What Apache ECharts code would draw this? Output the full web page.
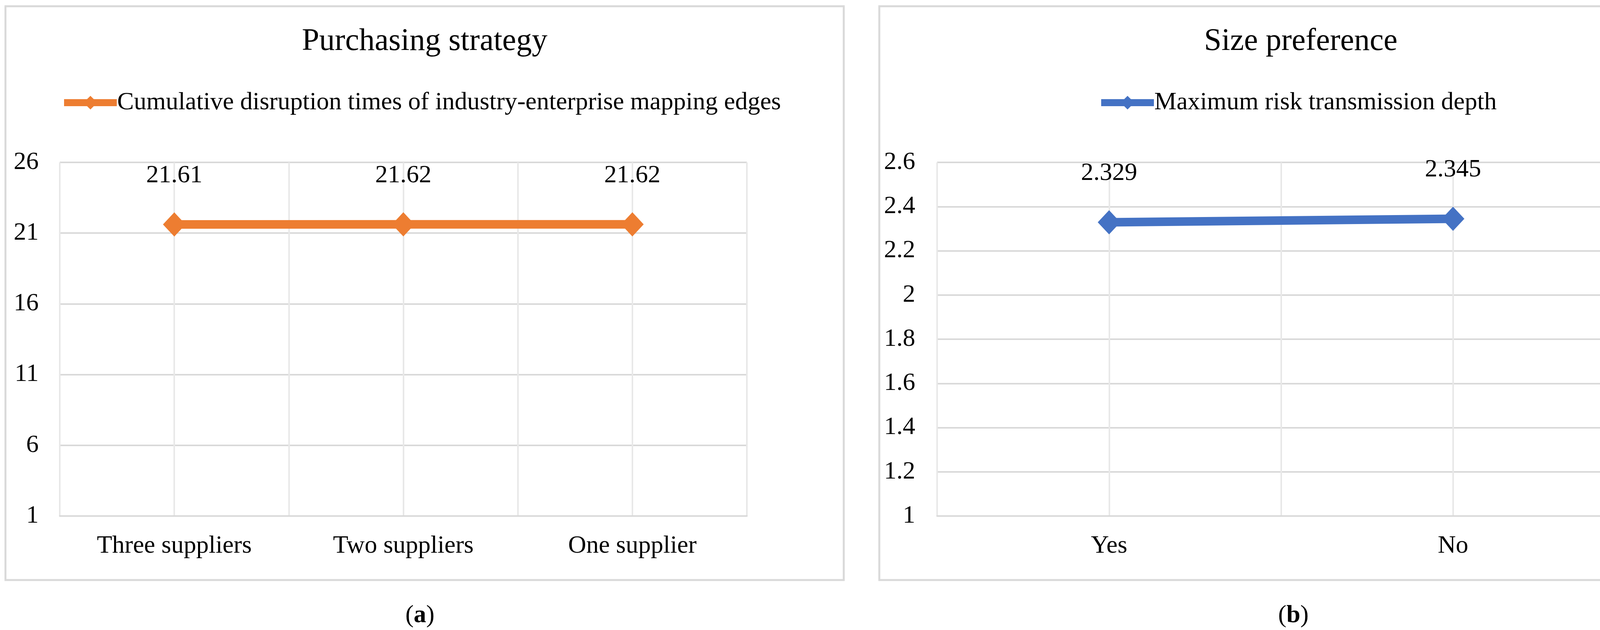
<!DOCTYPE html>
<html>
<head>
<meta charset="utf-8">
<script src="https://cdn.jsdelivr.net/npm/echarts@6/dist/echarts.min.js"></script>
<style>
  html, body { margin: 0; padding: 0; background: #fff; }
  #chart { width: 4388px; height: 1614px; }
</style>
</head>
<body>
<div id="chart"></div>
<script>
// datos del panel (a)
var strategyCats = ['Three suppliers', 'Two suppliers', 'One supplier'];
var disruptionTimes = [21.61, 21.62, 21.62];
var strategyName = 'Cumulative disruption times of industry-enterprise mapping edges';

// datos del panel (b)
var sizeCats = ['Yes', 'No'];
var transmissionDepth = [2.329, 2.345];
var sizeName = 'Maximum risk transmission depth';

var FONT = 'Liberation Serif';
var gridColor = '#d9d9d9';

var chart = echarts.init(document.getElementById('chart'));

// eje auxiliar para las lineas verticales a mitad de categoria
function halfSteps(n) {
  var a = [];
  for (var i = 0; i < 2 * n + 1; i++) a.push(String(i));
  return a;
}

function catAxis(idx, cats) {
  return {
    type: 'category', gridIndex: idx, data: cats, boundaryGap: true,
    axisLine: { show: true, lineStyle: { color: gridColor, width: 4 } },
    axisTick: { show: false },
    axisLabel: { color: '#000', fontFamily: FONT, fontSize: 64, margin: 45 },
    splitLine: { show: true, lineStyle: { color: gridColor, width: 4 } }
  };
}

function helperAxis(idx, n) {
  return {
    type: 'category', gridIndex: idx, data: halfSteps(n), boundaryGap: false,
    axisLine: { show: false }, axisTick: { show: false }, axisLabel: { show: false },
    splitLine: { show: true, lineStyle: { color: '#e8e8e8', width: 4 } }
  };
}

function valAxis(idx, min, max, interval, margin) {
  return {
    type: 'value', gridIndex: idx, min: min, max: max, interval: interval,
    axisLine: { show: false }, axisTick: { show: false },
    axisLabel: { color: '#000', fontFamily: FONT, fontSize: 64, margin: margin },
    splitLine: { show: true, lineStyle: { color: gridColor, width: 4 } }
  };
}

function lineSeries(name, data, color, x, y) {
  return {
    name: name, type: 'line', data: data, xAxisIndex: x, yAxisIndex: y,
    symbol: 'diamond', symbolSize: [58, 62],
    lineStyle: { color: color, width: 22 },
    itemStyle: { color: color },
    label: { show: true, position: 'top', distance: 62, color: '#000', fontFamily: FONT, fontSize: 64 },
    z: 5
  };
}

function legendAt(name, left) {
  return {
    data: [name], left: left, top: 226, itemWidth: 135, itemHeight: 44, itemGap: 0,
    lineStyle: { width: 18 },
    textStyle: { fontFamily: FONT, fontSize: 64, color: '#000', padding: [0, 0, 0, -4] }
  };
}

var option = {
  animation: false,
  backgroundColor: '#fff',
  title: [
    { text: 'Purchasing strategy', left: 1082, top: 62, textAlign: 'center',
      textStyle: { fontFamily: FONT, fontSize: 80, fontWeight: 'normal', color: '#000' } },
    { text: 'Size preference', left: 3325, top: 62, textAlign: 'center',
      textStyle: { fontFamily: FONT, fontSize: 80, fontWeight: 'normal', color: '#000' } }
  ],
  legend: [
    legendAt(strategyName, 150),
    legendAt(sizeName, 2805)
  ],
  grid: [
    { left: 153, top: 416, width: 1759, height: 906 },
    { left: 2399, top: 416, width: 1761, height: 906 }
  ],
  xAxis: [
    catAxis(0, strategyCats),
    catAxis(1, sizeCats),
    helperAxis(0, strategyCats.length),
    helperAxis(1, sizeCats.length)
  ],
  yAxis: [
    valAxis(0, 1, 26, 5, 54),
    valAxis(1, 1, 2.6, 0.2, 56)
  ],
  series: [
    lineSeries(strategyName, disruptionTimes, '#ED7D31', 0, 0),
    lineSeries(sizeName, transmissionDepth, '#4472C4', 1, 1)
  ],
  graphic: [
    { type: 'rect', shape: { x: 14, y: 16, width: 2146, height: 1470 },
      style: { fill: null, stroke: gridColor, lineWidth: 5 }, z: -1 },
    { type: 'rect', shape: { x: 2251, y: 16, width: 2131, height: 1470 },
      style: { fill: null, stroke: gridColor, lineWidth: 5 }, z: -1 },
    { type: 'text', x: 1075, y: 1577,
      style: { text: '({b|a})', rich: { b: { fontWeight: 'bold', fontFamily: FONT, fontSize: 64 } },
        fontFamily: FONT, fontSize: 64, fill: '#000', align: 'center', verticalAlign: 'middle' } },
    { type: 'text', x: 3311, y: 1577,
      style: { text: '({b|b})', rich: { b: { fontWeight: 'bold', fontFamily: FONT, fontSize: 64 } },
        fontFamily: FONT, fontSize: 64, fill: '#000', align: 'center', verticalAlign: 'middle' } }
  ]
};

chart.setOption(option);
</script>
</body>
</html>
